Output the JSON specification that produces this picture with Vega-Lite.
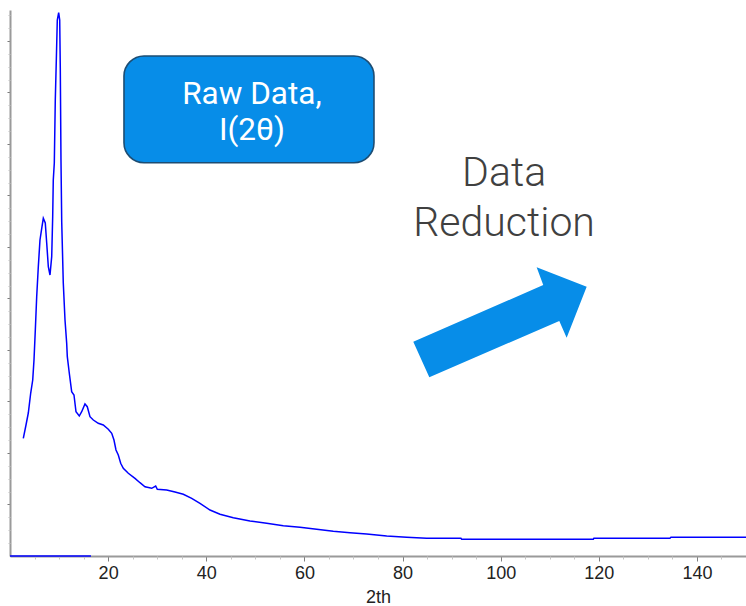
{
  "$schema": "https://vega.github.io/schema/vega-lite/v6.json",
  "width": 736,
  "height": 546,
  "autosize": {"type": "none"},
  "padding": {"left": 10, "top": 10, "right": 0, "bottom": 50},
  "background": "white",
  "config": {"view": {"stroke": null}, "axis": {"grid": false}},
  "datasets": {
    "curve": [
      {"two_theta": 2.71, "intensity": 228.5},
      {"two_theta": 3.26, "intensity": 254.3},
      {"two_theta": 3.73, "intensity": 277.6},
      {"two_theta": 4.22, "intensity": 316.4},
      {"two_theta": 4.63, "intensity": 341.7},
      {"two_theta": 4.89, "intensity": 380.5},
      {"two_theta": 5.16, "intensity": 438.7},
      {"two_theta": 5.44, "intensity": 503.4},
      {"two_theta": 5.77, "intensity": 561.6},
      {"two_theta": 6.11, "intensity": 613.5},
      {"two_theta": 6.52, "intensity": 639.3},
      {"two_theta": 6.79, "intensity": 655.6},
      {"two_theta": 7.19, "intensity": 646.5},
      {"two_theta": 7.48, "intensity": 607.6},
      {"two_theta": 7.81, "intensity": 561.6},
      {"two_theta": 8.15, "intensity": 545.5},
      {"two_theta": 8.5, "intensity": 581.1},
      {"two_theta": 8.7, "intensity": 658.7},
      {"two_theta": 8.82, "intensity": 729.9},
      {"two_theta": 9.03, "intensity": 763.0},
      {"two_theta": 9.23, "intensity": 885.3},
      {"two_theta": 9.44, "intensity": 962.9},
      {"two_theta": 9.64, "intensity": 1040.6},
      {"two_theta": 9.92, "intensity": 1054.8},
      {"two_theta": 10.13, "intensity": 1040.6},
      {"two_theta": 10.25, "intensity": 947.4},
      {"two_theta": 10.39, "intensity": 768.8},
      {"two_theta": 10.54, "intensity": 648.4},
      {"two_theta": 10.86, "intensity": 530.0},
      {"two_theta": 11.21, "intensity": 458.2},
      {"two_theta": 11.55, "intensity": 413.5},
      {"two_theta": 11.68, "intensity": 386.9},
      {"two_theta": 12.08, "intensity": 355.3},
      {"two_theta": 12.57, "intensity": 319.0},
      {"two_theta": 13.04, "intensity": 312.6},
      {"two_theta": 13.45, "intensity": 280.1},
      {"two_theta": 14.12, "intensity": 271.8},
      {"two_theta": 14.61, "intensity": 280.1},
      {"two_theta": 15.28, "intensity": 295.1},
      {"two_theta": 15.75, "intensity": 289.8},
      {"two_theta": 16.3, "intensity": 270.4},
      {"two_theta": 16.98, "intensity": 264.0},
      {"two_theta": 17.99, "intensity": 257.6},
      {"two_theta": 19.01, "intensity": 254.3},
      {"two_theta": 20.03, "intensity": 246.0},
      {"two_theta": 20.73, "intensity": 238.2},
      {"two_theta": 21.19, "intensity": 225.2},
      {"two_theta": 21.6, "intensity": 205.8},
      {"two_theta": 22.07, "intensity": 196.1},
      {"two_theta": 22.56, "intensity": 180.0},
      {"two_theta": 23.09, "intensity": 170.3},
      {"two_theta": 24.11, "intensity": 160.6},
      {"two_theta": 25.47, "intensity": 150.8},
      {"two_theta": 26.49, "intensity": 142.3},
      {"two_theta": 27.51, "intensity": 134.5},
      {"two_theta": 28.88, "intensity": 131.4},
      {"two_theta": 29.69, "intensity": 135.9},
      {"two_theta": 30.02, "intensity": 129.5},
      {"two_theta": 31.93, "intensity": 128.1},
      {"two_theta": 33.63, "intensity": 124.2},
      {"two_theta": 35.32, "intensity": 119.8},
      {"two_theta": 37.03, "intensity": 112.0},
      {"two_theta": 38.72, "intensity": 102.3},
      {"two_theta": 40.76, "intensity": 89.3},
      {"two_theta": 42.8, "intensity": 81.0},
      {"two_theta": 45.51, "intensity": 74.4},
      {"two_theta": 48.91, "intensity": 67.9},
      {"two_theta": 52.31, "intensity": 63.5},
      {"two_theta": 55.7, "intensity": 58.8},
      {"two_theta": 59.1, "intensity": 55.7},
      {"two_theta": 62.5, "intensity": 51.8},
      {"two_theta": 65.89, "intensity": 48.0},
      {"two_theta": 69.29, "intensity": 45.2},
      {"two_theta": 72.69, "intensity": 42.7},
      {"two_theta": 76.77, "intensity": 38.8},
      {"two_theta": 80.84, "intensity": 36.3},
      {"two_theta": 84.92, "intensity": 34.4},
      {"two_theta": 91.9, "intensity": 34.4},
      {"two_theta": 92.05, "intensity": 32.4},
      {"two_theta": 118.87, "intensity": 32.4},
      {"two_theta": 119.0, "intensity": 34.4},
      {"two_theta": 134.5, "intensity": 34.4},
      {"two_theta": 134.7, "intensity": 36.3},
      {"two_theta": 150.0, "intensity": 36.3}
    ],
    "baseline": [
      {"two_theta": 0, "intensity": 0},
      {"two_theta": 16.5, "intensity": 0}
    ],
    "box": [
      {"x0": 23.23, "x1": 74.18, "y0": 970.7, "y1": 763.5}
    ],
    "box_text": [
      {"x": 49.3, "y": 877.5, "label": "Raw Data,"},
      {"x": 49.3, "y": 807.6, "label": "I(2θ)"}
    ],
    "note_text": [
      {"x": 100.7, "y": 718.3, "label": "Data"},
      {"x": 100.7, "y": 620.5, "label": "Reduction"}
    ],
    "arrow": [
      {"x": 99.86, "y": 453.7}
    ]
  },
  "layer": [
    {
      "data": {"name": "curve"},
      "mark": {"type": "line", "color": "#0000ff", "strokeWidth": 1.5},
      "encoding": {
        "x": {
          "field": "two_theta",
          "type": "quantitative",
          "scale": {"domain": [0, 150], "nice": false, "zero": false},
          "axis": {
            "orient": "bottom",
            "values": [20, 40, 60, 80, 100, 120, 140],
            "tickSize": 5,
            "tickColor": "#808080",
            "tickWidth": 1,
            "domainColor": "#9a9a9a",
            "domainWidth": 2,
            "labelFont": "Liberation Sans Narrow, Liberation Sans, sans-serif",
            "labelFontSize": 18,
            "labelColor": "#222222",
            "labelPadding": 3,
            "title": "2th",
            "titleFont": "Liberation Sans Narrow, Liberation Sans, sans-serif",
            "titleFontSize": 18,
            "titleFontWeight": "normal",
            "titleColor": "#222222",
            "titlePadding": 6
          }
        },
        "y": {
          "field": "intensity",
          "type": "quantitative",
          "scale": {"domain": [0, 1060], "nice": false},
          "axis": {
            "orient": "left",
            "values": [100, 200, 300, 400, 500, 600, 700, 800, 900, 1000],
            "labels": false,
            "tickSize": 3,
            "tickColor": "#7a7a7a",
            "domainColor": "#9a9a9a",
            "domainWidth": 2,
            "title": null
          }
        }
      }
    },
    {
      "data": {"name": "baseline"},
      "mark": {"type": "line", "color": "#0000ff", "strokeWidth": 1.6},
      "encoding": {
        "x": {
          "field": "two_theta",
          "type": "quantitative",
          "axis": {
            "orient": "bottom",
            "values": [5, 10, 15, 25, 30, 35, 45, 50, 55, 65, 70, 75, 85, 90, 95, 105, 110, 115, 125, 130, 135, 145],
            "labels": false,
            "domain": false,
            "tickSize": 3,
            "tickColor": "#c4c4c4",
            "title": null
          }
        },
        "y": {
          "field": "intensity",
          "type": "quantitative",
          "axis": {
            "orient": "left",
            "values": [25, 50, 75, 125, 150, 175, 225, 250, 275, 325, 350, 375, 425, 450, 475, 525, 550, 575, 625, 650, 675, 725, 750, 775, 825, 850, 875, 925, 950, 975, 1025, 1050],
            "labels": false,
            "domain": false,
            "tickSize": 2,
            "tickColor": "#c4c4c4",
            "title": null
          }
        }
      }
    },
    {
      "data": {"name": "box"},
      "mark": {"type": "rect", "cornerRadius": 20, "fill": "#078de8", "stroke": "#1d4d73", "strokeWidth": 1.6},
      "encoding": {
        "x": {"field": "x0", "type": "quantitative", "axis": null},
        "x2": {"field": "x1"},
        "y": {"field": "y0", "type": "quantitative", "axis": null},
        "y2": {"field": "y1"}
      }
    },
    {
      "data": {"name": "box_text"},
      "mark": {"type": "text", "font": "Roboto", "fontSize": 31.5, "fontWeight": 400, "color": "white", "align": "center", "baseline": "alphabetic"},
      "encoding": {
        "x": {"field": "x", "type": "quantitative", "axis": null},
        "y": {"field": "y", "type": "quantitative", "axis": null},
        "text": {"field": "label"}
      }
    },
    {
      "data": {"name": "note_text"},
      "mark": {"type": "text", "font": "Roboto", "fontSize": 41, "fontWeight": 300, "color": "#404040", "align": "center", "baseline": "alphabetic"},
      "encoding": {
        "x": {"field": "x", "type": "quantitative", "axis": null},
        "y": {"field": "y", "type": "quantitative", "axis": null},
        "text": {"field": "label"}
      }
    },
    {
      "data": {"name": "arrow"},
      "mark": {
        "type": "point",
        "shape": "M -0.815 0.634 L -1 0.224 L 0.499 -0.43 L 0.423 -0.634 L 1 -0.411 L 0.769 0.178 L 0.684 -0.015 Z",
        "size": 30067,
        "filled": true,
        "fill": "#078de8",
        "opacity": 1,
        "strokeWidth": 0
      },
      "encoding": {
        "x": {"field": "x", "type": "quantitative", "axis": null},
        "y": {"field": "y", "type": "quantitative", "axis": null}
      }
    }
  ],
  "resolve": {"axis": {"x": "independent", "y": "independent"}}
}
